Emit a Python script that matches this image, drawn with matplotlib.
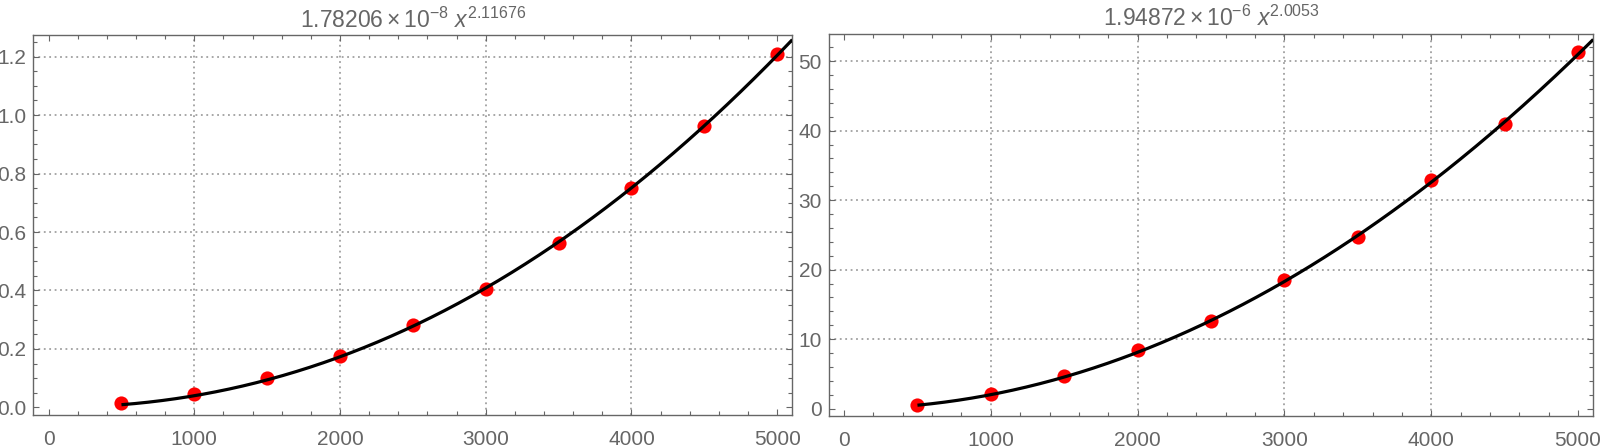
import matplotlib
matplotlib.use("Agg")
import matplotlib.pyplot as plt
import numpy as np
from matplotlib.ticker import MultipleLocator

plt.rcParams['font.family'] = ['Liberation Sans', 'DejaVu Sans']
plt.rcParams['mathtext.fontset'] = 'custom'
plt.rcParams['mathtext.rm'] = 'Liberation Sans'
plt.rcParams['mathtext.it'] = 'Liberation Sans:italic'

GRAY = '#666666'

sizes = [500, 1000, 1500, 2000, 2500, 3000, 3500, 4000, 4500, 5000]
times_left = [0.015, 0.045, 0.099, 0.177, 0.282, 0.406, 0.561, 0.749, 0.964, 1.209]
times_right = [0.55, 2.08, 4.64, 8.38, 12.55, 18.5, 24.67, 32.86, 40.9, 51.25]

# fitted power laws a * x^b, as given in the titles
fit_left = (1.78206e-8, 2.11676)
fit_right = (1.94872e-6, 2.0053)
titles = [r'$1.78206\times10^{-8}\ x^{2.11676}$',
          r'$1.94872\times10^{-6}\ x^{2.0053}$']

x_lim = (-104, 5104)
y_lims = [(-0.027, 1.273), (-1.05, 53.9)]
grid_x = [1000, 2000, 3000, 4000]
grid_y = [[0.2, 0.4, 0.6, 0.8, 1.0, 1.2], [10, 20, 30, 40, 50]]
y_major = [0.2, 10]
y_minor = [0.05, 2]


def draw_panel(ax, ys, fit, title, ylim, gy, ymaj, ymin):
    ax.set_xlim(*x_lim)
    ax.set_ylim(*ylim)
    for g in grid_x:
        ax.axvline(g, color='#a0a0a0', lw=1.3, ls=(0, (1, 2)), zorder=1)
    for g in gy:
        ax.axhline(g, color='#a0a0a0', lw=1.3, ls=(0, (1, 2)), zorder=1)

    ax.plot(sizes, ys, 'o', color='red', markersize=10.2, markeredgewidth=0, zorder=2)
    xx = np.linspace(sizes[0], x_lim[1], 300)
    ax.plot(xx, fit[0] * xx ** fit[1], color='black', lw=2.3, zorder=3,
            solid_capstyle='butt')

    ax.xaxis.set_major_locator(MultipleLocator(1000))
    ax.xaxis.set_minor_locator(MultipleLocator(200))
    ax.yaxis.set_major_locator(MultipleLocator(ymaj))
    ax.yaxis.set_minor_locator(MultipleLocator(ymin))
    if ymaj < 1:
        ax.yaxis.set_major_formatter(plt.FormatStrFormatter('%.1f'))
    ax.tick_params(which='both', direction='in', top=True, right=True,
                   color=GRAY, labelcolor=GRAY, labelsize=15, width=0.8)
    ax.tick_params(which='major', length=4.5)
    ax.tick_params(which='minor', length=3)
    ax.tick_params(axis='x', pad=10.5)
    ax.tick_params(axis='y', pad=5)
    for s in ax.spines.values():
        s.set_color(GRAY)
        s.set_linewidth(1.0)
    ax.set_title(title, color=GRAY, fontsize=16.5, pad=5.5)


fig = plt.figure(figsize=(16, 4.48), dpi=100)
ax1 = fig.add_axes([0.0209, 0.0730, 0.4743, 0.8482])
ax2 = fig.add_axes([0.5180, 0.0714, 0.4778, 0.8527])

draw_panel(ax1, times_left, fit_left, titles[0], y_lims[0], grid_y[0], y_major[0], y_minor[0])
draw_panel(ax2, times_right, fit_right, titles[1], y_lims[1], grid_y[1], y_major[1], y_minor[1])

fig.savefig('out.png', dpi=100)
